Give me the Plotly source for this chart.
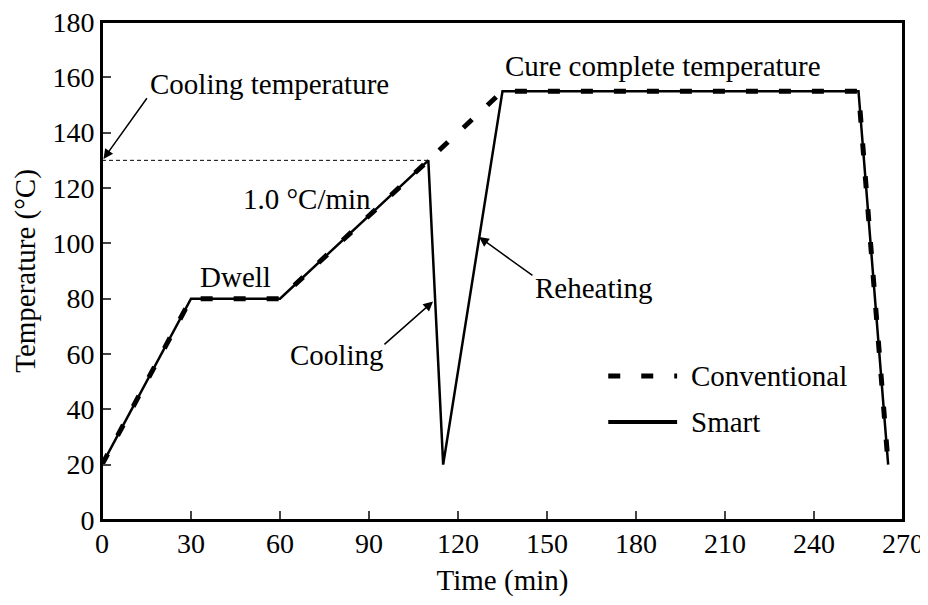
import plotly.graph_objects as go

# ---- data ----
conv_time = [0, 30, 60, 135, 255, 265]
conv_temp = [20, 80, 80, 155, 155, 20]

smart_time = [0, 30, 60, 110, 115, 135, 255, 265]
smart_temp = [20, 80, 80, 130, 20, 155, 155, 20]

cool_ref_time = [0, 110]
cool_ref_temp = [130, 130]

x_ticks = [0, 30, 60, 90, 120, 150, 180, 210, 240, 270]
y_ticks = [0, 20, 40, 60, 80, 100, 120, 140, 160, 180]

FONT = "Liberation Serif"
FS = 29
TFS = 28

fig = go.Figure()

fig.add_trace(go.Scatter(x=cool_ref_time, y=cool_ref_temp, mode="lines",
                         line=dict(color="black", width=1, dash="4px,3px"),
                         showlegend=False, hoverinfo="skip"))
fig.add_trace(go.Scatter(x=smart_time, y=smart_temp, mode="lines", name="Smart",
                         line=dict(color="black", width=2.5), showlegend=False))
fig.add_trace(go.Scatter(x=conv_time, y=conv_temp, mode="lines", name="Conventional",
                         line=dict(color="black", width=5, dash="12px,21px"),
                         showlegend=False))

annots = []
def txt(x, y, s, xanchor="center"):
    annots.append(dict(x=x, y=y, xref="x", yref="y", text=s, showarrow=False,
                       xanchor=xanchor, yanchor="middle",
                       font=dict(family=FONT, size=FS, color="black")))

def arrow(x_head, y_head, x_tail, y_tail):
    annots.append(dict(x=x_head, y=y_head, xref="x", yref="y", ax=x_tail, ay=y_tail,
                       axref="x", ayref="y", text="", showarrow=True,
                       arrowhead=2, arrowsize=1.3, arrowwidth=1.5, arrowcolor="black"))

txt(15.5, 157.5, "Cooling temperature", "left")
arrow(0.5, 130.5, 15.5, 153)
txt(69, 116, "1.0 °C/min")
txt(45, 88, "Dwell")
txt(79, 59.5, "Cooling")
arrow(111.6, 79, 94.7, 63)
txt(166, 84, "Reheating")
arrow(127.1, 102.3, 145.6, 88)
txt(189, 164, "Cure complete temperature")

# manual legend
legend_items = [("Conventional", 0.289, dict(color="black", width=5, dash="12px,21px")),
                ("Smart", 0.197, dict(color="black", width=4))]
shapes = [dict(type="rect", xref="paper", yref="paper", x0=0, x1=1, y0=0, y1=1,
               line=dict(color="black", width=2), layer="above")]
for name, yp, ln in legend_items:
    shapes.append(dict(type="line", xref="paper", yref="paper",
                       x0=0.632, x1=0.718, y0=yp, y1=yp, line=ln))
    annots.append(dict(x=0.733, y=yp, xref="paper", yref="paper", text=name,
                       showarrow=False, xanchor="left", yanchor="middle",
                       font=dict(family=FONT, size=FS, color="black")))

# page body has an 8px margin: figure is shrunk so the plot area lands where the reference has it
fig.update_layout(
    width=920, height=589,
    margin=dict(l=94, r=25, t=14, b=77),
    paper_bgcolor="white", plot_bgcolor="white",
    font=dict(family=FONT, size=FS, color="black"),
    annotations=annots, shapes=shapes, showlegend=False,
)
fig.update_xaxes(range=[0, 270], tickvals=x_ticks, ticks="inside", ticklen=9, tickwidth=2,
                 showline=True, linewidth=2, linecolor="black", mirror=True,
                 showgrid=False, zeroline=False, ticklabeloverflow="allow", automargin=False,
                 ticklabelstandoff=-3,
                 title=dict(text="Time (min)", standoff=14,
                            font=dict(family=FONT, size=FS, color="black")),
                 tickfont=dict(family=FONT, size=TFS, color="black"))
fig.update_yaxes(range=[0, 180], tickvals=y_ticks, ticks="inside", ticklen=9, tickwidth=2,
                 showline=True, linewidth=2, linecolor="black", mirror=True,
                 showgrid=False, zeroline=False, ticklabeloverflow="allow", automargin=False,
                 title=dict(text="Temperature (°C)", standoff=8,
                            font=dict(family=FONT, size=FS, color="black")),
                 tickfont=dict(family=FONT, size=TFS, color="black"))

fig.write_html("out.html")
